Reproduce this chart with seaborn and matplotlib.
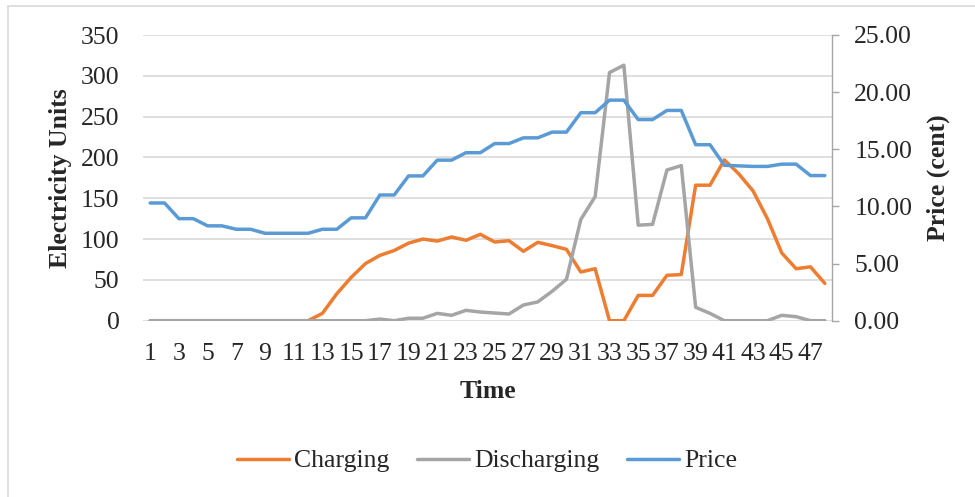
import numpy as np
import pandas as pd
import matplotlib
matplotlib.use("Agg")
import matplotlib.pyplot as plt
import seaborn as sns
from matplotlib.lines import Line2D
from matplotlib.patches import Rectangle

time = list(range(1, 49))
charging = [0, 0, 0, 0, 0, 0, 0, 0, 0, 0, 0, 0,
            9, 33, 53, 70, 80, 86, 95, 100, 97.6, 102.5, 98.5, 105.8,
            96.4, 98, 85, 96, 92, 87.4, 59.7, 63.7, 0, 0, 31, 31,
            55.6, 56.5, 166, 166, 197, 180, 159, 125, 83, 63.7, 66, 45.7]
discharging = [0, 0, 0, 0, 0, 0, 0, 0, 0, 0, 0, 0,
               0, 0, 0, 0, 2, 0, 3, 3, 9, 6.6, 12.7, 10.6,
               9.4, 8.2, 19.2, 23, 36, 50.7, 124, 152, 304, 313, 117, 118,
               184.6, 190, 16.4, 9, 0, 0, 0, 0, 6.6, 4.9, 0, 0]
price = [10.3, 10.3, 8.93, 8.93, 8.3, 8.3, 8.0, 8.0, 7.65, 7.65, 7.65, 7.65,
         8.0, 8.0, 9.0, 9.0, 11.0, 11.0, 12.67, 12.67, 14.05, 14.05, 14.7, 14.7,
         15.5, 15.5, 16.0, 16.0, 16.5, 16.5, 18.2, 18.2, 19.3, 19.3, 17.6, 17.6,
         18.4, 18.4, 15.4, 15.4, 13.6, 13.55, 13.5, 13.5, 13.7, 13.7, 12.7, 12.7]

left_ticks = [0, 50, 100, 150, 200, 250, 300, 350]
right_ticks = [0, 5, 10, 15, 20, 25]
xtick_labels = [str(t) for t in time[::2]]

df = pd.DataFrame({"idx": np.arange(len(time)), "Charging": charging,
                   "Discharging": discharging, "Price": price})

sns.set_theme(style="white")
plt.rcParams['font.family'] = ['Liberation Serif', 'DejaVu Serif']

C_ORANGE = "#ED7D31"
C_GRAY = "#A5A5A5"
C_BLUE = "#5B9BD5"
GRID = "#D9D9D9"
FS = 18.5
LW = 2.5

fig = plt.figure(figsize=(9.75, 4.97), dpi=100)
ax = fig.add_axes([143/975, 1 - 320.7/497, (832-143)/975, (320.7-35)/497])
ax2 = ax.twinx()

sns.lineplot(data=df, x="idx", y="Charging", ax=ax, color=C_ORANGE, linewidth=LW)
sns.lineplot(data=df, x="idx", y="Discharging", ax=ax, color=C_GRAY, linewidth=LW)
sns.lineplot(data=df, x="idx", y="Price", ax=ax2, color=C_BLUE, linewidth=LW)

ax.set_xlim(-0.5, len(time) - 0.5)
ax.set_ylim(0, 350)
ax2.set_ylim(0, 25)
ax.set_yticks(left_ticks)
ax.set_yticklabels([str(t) for t in left_ticks], fontsize=FS)
ax2.set_yticks(right_ticks)
ax2.set_yticklabels([f"{t:.2f}" for t in right_ticks], fontsize=FS)
ax.set_xticks(np.arange(0, len(time), 2))
ax.set_xticklabels(xtick_labels, fontsize=FS)

ax.grid(axis="y", color=GRID, linewidth=1.2)
ax.set_axisbelow(True)
for s in ["top", "left", "bottom", "right"]:
    ax.spines[s].set_visible(False)
for s in ["top", "left", "bottom"]:
    ax2.spines[s].set_visible(False)
ax2.spines["right"].set_color("#A6A6A6")
ax2.spines["right"].set_linewidth(1.0)

ax.tick_params(axis="y", length=0, pad=17)
ax.tick_params(axis="x", length=0, pad=16)
ax2.tick_params(axis="y", length=5, width=1, color="#A6A6A6", pad=11)

ax.set_xlabel("Time", fontsize=FS, fontweight="bold", labelpad=11)
ax.set_ylabel("Electricity Units", fontsize=FS, fontweight="bold", labelpad=6)
ax2.set_ylabel("Price (cent)", fontsize=FS, fontweight="bold", labelpad=10)

handles = [Line2D([], [], color=C_ORANGE, lw=LW),
           Line2D([], [], color=C_GRAY, lw=LW),
           Line2D([], [], color=C_BLUE, lw=LW)]
fig.legend(handles, ["Charging", "Discharging", "Price"], loc="center",
           bbox_to_anchor=(487/975, 1 - 461/497), ncol=3, frameon=False,
           fontsize=FS, handlelength=2.0, handletextpad=0.2, columnspacing=1.1)

fig.patches.append(Rectangle((8/975, -0.1), 1.2, 1 - 6/497 + 0.1,
                             transform=fig.transFigure, fill=False,
                             edgecolor=GRID, linewidth=1.2))

fig.savefig("out.png", dpi=100)
